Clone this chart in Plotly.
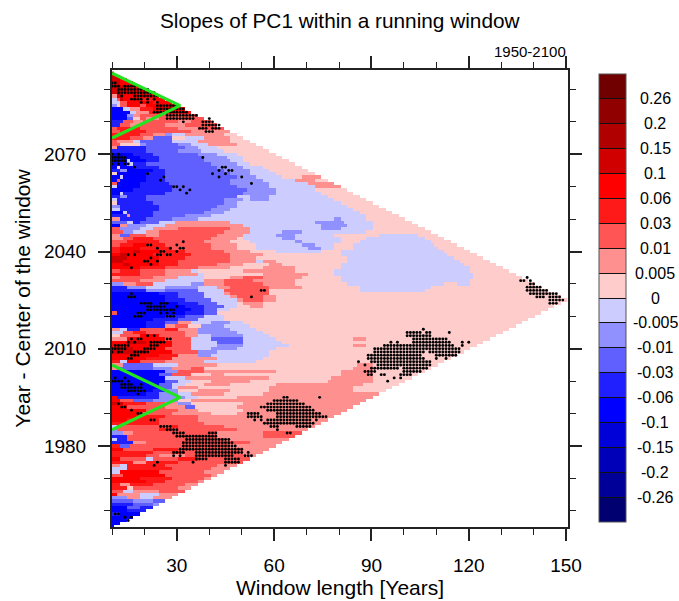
import numpy as np
import plotly.graph_objects as go

COLORS = ["#700000","#900000","#B00000","#D00000","#FF0000","#FF1A1A","#FF5555","#FF9090","#FFCCCC",
          "#CCCCFF","#9090FF","#6060FF","#2020FF","#0000FF","#0000D8","#0000B8","#000098","#000070"]
LEVEL_KEYS = "ABCDEFGHIJKLMNOPQR"
CBAR_LABELS = ["0.26","0.2","0.15","0.1","0.06","0.03","0.01","0.005","0",
               "-0.005","-0.01","-0.03","-0.06","-0.1","-0.15","-0.2","-0.26"]
X_MAJOR = [30,60,90,120,150]
X_MINOR = list(range(10,151,10))
Y_MAJOR = [1980,2010,2040,2070]
Y_MINOR = list(range(1960,2091,10))
GREEN_1_X = [10,31,10]; GREEN_1_Y = [2095,2085,2075]
GREEN_2_X = [10,31,10]; GREEN_2_Y = [2005,1995,1985]

# Every token: colour class + last window length of the run; last token runs to the triangle edge.
ROWS = {
2095:"D",2094:"D",2093:"D12 E",2092:"D12 E",2091:"D14 E",2090:"D14 E",2089:"D12 E",2088:"H11 D13 E",
2087:"J11 G12 D13 E18 F22 E",2086:"J12 G14 E22 F24 E",
2085:"K11 I12 G14 E18 G20 E",2084:"N13 J15 H18 F22 E",2083:"N15 J17 H21 F",2082:"N14 K16 H18 G",
2081:"N14 L16 I18 G20 H24 G",2080:"M13 G16 H19 G30 H34 G",
2079:"M12 G15 H18 G26 H32 G",2078:"G11 F18 G30 H36 G",2077:"G12 F20 G34 H",
2076:"F18 G22 H26 K28 J32 H44 I",2075:"F15 G19 H22 L28 I32 J38 H46 I",
2074:"G11 H16 J18 L28 J36 H46 I",2073:"G12 I18 K20 L30 K34 J39 H48 I",
2072:"H11 M20 L32 K36 J42 I",2071:"M20 L30 K37 J44 I",2070:"O13 N16 M22 L36 K42 J48 I",
2069:"O14 N18 M24 L38 K45 J50 I",2068:"O14 J15 N20 M24 L38 K46 J50 I",
2067:"N14 J16 M20 L40 K48 J52 I",2066:"N11 I12 N16 M24 L42 K50 J56 I",
2065:"M12 K14 N22 M26 L44 K52 J58 I",2064:"I11 N20 M26 L46 K52 J60 I",
2063:"N12 J13 N20 M26 L48 K54 J62 I68 H",2062:"N11 G12 N20 M26 L46 K56 J66 H72 I",
2061:"G11 N18 M27 L46 K58 J70 H",2060:"J11 N18 M28 L48 K58 J72 H",
2059:"N16 M28 L51 K60 J72 I",2058:"N12 J13 M26 L50 K60 J74 I",
2057:"M12 K14 M20 L48 J52 K58 J76 I",2056:"J11 M20 L44 K50 J52 K58 J78 I",
2055:"I11 M22 L44 K48 J80 I",2054:"K12 M24 L42 K48 J82 I",
2053:"J12 M24 L40 K46 J84 I",2052:"N13 J14 M22 L38 K44 J86 I",
2051:"M14 H15 M22 L32 K40 J88 I",2050:"H12 M20 L28 K36 J78 K80 J88 I",
2049:"L14 J16 M18 L24 J29 H46 J72 K81 J90 I",2048:"N12 H14 K20 J26 H50 J74 K82 J90 I",
2047:"G12 K18 J22 H30 G46 H52 J74 K80 J90 I",2046:"G13 K16 J20 H24 G44 H52 J62 K68 J88 I",
2045:"H12 L15 G20 H24 G42 H50 J60 K66 J78 I92 J104 I",
2044:"H13 G16 F22 G40 H48 I50 J62 K66 J80 I88 J106 I",
2043:"G14 F24 G38 H46 I52 J66 K68 J80 I86 J108 I",
2042:"G12 F16 E20 F26 G40 H48 I54 J68 K72 J78 I84 J109 I",
2041:"F12 E18 F28 G40 H48 I54 J70 K74 J78 I84 J110 I",
2040:"F12 E16 D18 E24 F32 G44 H52 I60 J74 I80 J112 I",
2039:"E12 D14 E22 F34 G46 H56 I80 J113 I",2038:"D14 E24 F32 G46 H54 I82 J115 I",
2037:"D13 E24 F30 G46 H54 J56 H60 I82 J117 I",2036:"E13 D15 E24 F30 G42 H50 I58 H62 I80 J118 I",
2035:"E18 F26 G36 H46 I56 H66 I80 J120 I",2034:"G12 F18 G26 H34 J36 I50 H66 I78 J120 I",
2033:"F18 G26 H36 J38 I56 H70 I78 J121 I",2032:"H12 G22 H30 J38 I46 H50 G56 H68 I80 J121 I",
2031:"G18 H26 J38 H44 G53 H66 I80 J120 I",2030:"K13 H17 G22 J34 K38 H44 G56 H66 I82 J112 I116 J120 I",
2029:"M14 K20 J26 K36 J42 H46 G58 H68 I86 J108 I",2028:"M20 K26 L36 J44 G58 I86 J106 I",
2027:"N24 M30 L38 J44 H46 G58 I",2026:"N26 M30 L38 J46 H48 G56 H60 I",
2025:"N26 M32 L40 J48 H50 G56 H60 I",2024:"N30 M36 L42 J48 I50 H56 I",
2023:"N32 M38 L44 J48 I52 H56 I",2022:"N34 M38 L42 J46 I",2021:"G11 N32 M38 L42 I",
2020:"N26 M32 L38 J44 I",2019:"N22 M30 L36 J44 I",2018:"N20 M26 L30 H34 J40 K46 J50 I",
2017:"N20 M26 H29 G33 I37 K44 J52 I",2016:"H12 J14 M18 G26 F30 H36 K46 J54 I",
2015:"J13 G16 F20 G32 H36 K48 J56 I",2014:"I12 G18 E24 G32 H36 J40 K50 J58 I",
2013:"H14 E26 G34 J40 L50 J60 I84 H88 I",2012:"E14 D20 E28 G34 J42 L50 J62 I",
2011:"E28 G34 J42 K50 J64 I84 H88 I",2010:"D16 E26 G34 J40 K48 J60 I",
2009:"D20 E28 G36 K42 J58 I",2008:"E24 F30 H36 K40 J58 I",
2007:"E20 F28 H42 J56 I",2006:"F12 J14 E18 G26 H38 J54 I",
2005:"H13 L22 J30 H42 I85 H90 I",2004:"H11 L22 K28 H34 G38 I84 H90 I",
2003:"N26 K30 G38 H60 I80 H90 I",2002:"N24 L28 G34 I40 H44 I80 H90 I",
2001:"N26 J32 H58 I77 H90 I",2000:"N26 L30 J34 I40 H52 I76 H90 I",
1999:"N24 L28 J32 I38 H46 I60 H87 I",1998:"N24 L28 J30 H36 I58 H84 I",
1997:"N22 M26 K30 I36 H46 I58 H84 I",1996:"N20 M24 K30 J34 H44 I56 H",
1995:"E11 M24 K32 J36 I48 H",1994:"E12 G16 L22 K30 I34 H",
1993:"D13 F20 G26 H30 K34 I50 H",1992:"E14 G26 H32 L35 I48 H",1991:"E20 G30 H36 I50 H",
1990:"E18 G28 H40 I48 H",1989:"E18 F26 G36 H",1988:"E14 F24 G36 H",
1987:"F24 G38 H",1986:"J11 F12 G28 F30 G44 H",1985:"K11 G24 F28 G48 H",
1984:"K13 H16 G42 H56 G",1983:"M14 G42 H56 G",1982:"J11 M14 G44 H",1981:"M16 H20 G52 H",
1980:"F12 L15 G46 H",1979:"E13 G22 F30 G50 H",1978:"F22 G28 F32 G48 H",1977:"F20 G24 H32 G50 H",
1976:"E12 G20 J22 G30 F36 G",1975:"F16 H20 F30 G",1974:"H12 J14 F26 G42 H",1973:"J14 F28 G40 H",
1972:"J12 E24 G38 H",1971:"G13 E26 G40 H",1970:"E18 F28 G38 H",1969:"E20 F26 G36 H",
1968:"F12 H15 F22 G32 H",1967:"F14 I16 G30 H",1966:"G13 J16 H24 G",1965:"E11 H18 J24 H",
1964:"K14 H18 J22 H",1963:"L16 K22 L",1962:"M16 L22 K",1961:"N14 L18 M",1960:"N14 M",1959:"M12 N",
1958:"N",1957:"N",1956:"N",1955:"N",
}

# Significance stippling: year -> list of (first, last) window lengths.
STIPPLE_LEFT = {
2092:[(10,11)],2091:[(10,12),(14,17)],2090:[(12,21)],2089:[(12,23)],2088:[(13,13),(17,24)],
2087:[(16,19),(21,21),(23,23)],2086:[(19,19),(21,21),(24,24)],2085:[(24,30)],2084:[(24,32)],
2083:[(23,33)],2082:[(27,36)],2081:[(27,35),(40,40)],2080:[(32,32),(38,41)],2079:[(38,43)],
2078:[(37,39),(41,43)],2077:[(39,41)],2070:[(10,10),(12,12)],2069:[(10,14),(38,38)],
2068:[(10,14)],2067:[(10,10),(12,12),(14,15)],2066:[(17,17),(44,45)],2065:[(43,43),(46,47)],
2064:[(21,21),(41,41),(45,45)],2063:[(26,26),(43,43),(50,50)],2062:[(25,25)],2061:[(53,53)],
2060:[(29,30),(32,32)],2059:[(31,31),(34,34)],2058:[(33,33)],
2043:[(32,32)],2042:[(21,22),(30,30)],2041:[(24,24),(28,28),(31,32)],2040:[(25,26),(30,30)],
2039:[(15,15),(17,17),(24,25),(27,28)],2038:[(22,22)],2037:[(20,21),(24,24)],2036:[(22,22)],2035:[(16,16)],
2028:[(56,57)],2027:[(16,16)],2026:[(15,17),(53,53)],2024:[(19,22),(25,27)],2023:[(21,26),(30,30)],
2022:[(21,29)],2021:[(18,20),(25,25),(27,27),(29,29)],2020:[(17,19),(27,29)],
2014:[(21,21),(23,23)],2013:[(16,16),(18,19),(27,28)],2012:[(15,15),(17,17),(22,26)],
2011:[(11,15),(22,24)],2010:[(10,14),(20,23)],2009:[(10,10),(12,13),(17,21)],
2008:[(16,18)],2007:[(15,16)],2001:[(11,11),(14,14)],2000:[(10,13),(15,15)],
1999:[(13,16),(19,19)],1998:[(13,19)],1997:[(15,20)],1996:[(18,18)],
1993:[(12,12)],1992:[(13,14)],1991:[(16,16)],1990:[(18,19)],1988:[(22,23)],
1986:[(25,28)],1985:[(27,30)],1984:[(29,32),(40,42)],1983:[(30,42)],1982:[(33,46)],
1981:[(32,47)],1980:[(32,48)],1979:[(31,50)],1978:[(29,32),(36,50),(52,52)],
1977:[(29,29),(31,31),(36,47),(51,53)],1976:[(36,39),(45,49)],1975:[(24,24),(35,35),(45,49)],
1974:[(23,23),(45,45)],1959:[(11,12)],1958:[(14,14),(16,16)],1957:[(15,15)],
}
STIPPLE_MID = {
1995:[(63,64),(74,74)],1994:[(60,67)],1993:[(58,69)],1992:[(56,71)],
1991:[(58,72)],1990:[(52,55),(61,74)],1989:[(52,56),(61,76)],
1988:[(54,54),(56,56),(58,71),(73,73)],1987:[(57,72)],1986:[(59,61),(67,71)],
1985:[(61,61)],1984:[(64,65)],
}
STIPPLE_RIGHT = {
2016:[(106,106)],2015:[(101,105),(107,108),(114,114)],
2014:[(101,108)],2013:[(103,113)],2012:[(96,96),(98,98),(103,114),(118,118),(120,120)],
2011:[(94,115),(118,118)],2010:[(91,117)],2009:[(91,106),(108,117)],
2008:[(89,105),(110,116)],2007:[(89,106),(110,110),(113,113)],
2006:[(86,86),(90,108)],2005:[(88,88),(92,108)],2004:[(90,98),(100,107)],
2003:[(88,91),(100,105)],2002:[(89,90),(93,94),(99,102)],2001:[(97,97),(99,99)],2000:[(95,95)],
2032:[(138,138)],2031:[(136,137),(139,139)],2030:[(139,140)],2029:[(138,142)],2028:[(138,144)],
2027:[(139,147)],2026:[(141,143),(145,148)],2025:[(145,149)],2024:[(145,147)],
}

lengths = np.arange(10,151)
years = np.arange(1955,2096)
z = np.full((len(years),len(lengths)),np.nan)
for yy,txt in ROWS.items():
    start=10
    lim=2*min(yy-1950,2100-yy)
    for tok in txt.split():
        level=LEVEL_KEYS.index(tok[0])
        end=int(tok[1:]) if len(tok)>1 else 150
        for L in range(start,min(end,lim)+1):
            z[yy-1955,L-10]=level+0.5
        start=end+1

dot_x=[];dot_y=[]
for table in (STIPPLE_LEFT,STIPPLE_MID,STIPPLE_RIGHT):
    for yy,spans in table.items():
        for a,b in spans:
            for L in range(a,b+1):
                dot_x.append(L);dot_y.append(yy)

n=len(COLORS)
# z index 0 is the darkest red: colour bar shows it at the top, so the scale runs reversed
scale=[]
for i,c in enumerate(COLORS[::-1]):
    scale.append([i/n,c]);scale.append([(i+1)/n,c])
zz=n-z

L_PX,R_PX,T_PX,B_PX=112,568,70,527
W,H=679,601
PW,PH=R_PX-L_PX,B_PX-T_PX
px=lambda v:(v-L_PX)/PW
py=lambda v:(B_PX-v)/PH
FONT="Liberation Sans"

fig=go.Figure()
fig.add_trace(go.Heatmap(x=lengths,y=years,z=zz,zmin=0,zmax=n,colorscale=scale,hoverinfo="skip",
    colorbar=dict(x=px(599),xanchor="left",y=py(522),yanchor="bottom",lenmode="pixels",len=448,
        thicknessmode="pixels",thickness=27,xpad=0,ypad=0,outlinecolor="#555555",outlinewidth=1,
        tickmode="array",tickvals=list(range(1,n)),ticks="inside",ticklen=27,tickcolor="#111111",tickwidth=1,
        showticklabels=False)))
fig.add_trace(go.Scatter(x=dot_x,y=dot_y,mode="markers",marker=dict(color="black",size=2.9,line=dict(width=0)),
    hoverinfo="skip",showlegend=False))
for gx,gy in ((GREEN_1_X,GREEN_1_Y),(GREEN_2_X,GREEN_2_Y)):
    fig.add_trace(go.Scatter(x=gx,y=gy,mode="lines",line=dict(color="#22E522",width=3.2),
        hoverinfo="skip",showlegend=False))

ann=[dict(text="Slopes of PC1 within a running window",x=0.5,xref="x domain",y=py(20),yref="paper",showarrow=False,
          font=dict(family=FONT,size=20.8,color="black"),xanchor="center",yanchor="middle"),
     dict(text="1950-2100",x=1,xref="x domain",y=py(52),yref="paper",showarrow=False,
          font=dict(family=FONT,size=15,color="black"),xanchor="right",yanchor="middle")]
for i,lab in enumerate(CBAR_LABELS):
    ann.append(dict(text=lab,x=px(655),xref="paper",y=py(74+448*(i+1)/18),yref="paper",showarrow=False,
        font=dict(family=FONT,size=16,color="black"),xanchor="center",yanchor="middle"))

fig.update_layout(width=W,height=H,autosize=False,margin=dict(l=L_PX,r=W-R_PX,t=T_PX,b=H-B_PX,pad=0),
    paper_bgcolor="white",plot_bgcolor="white",showlegend=False,annotations=ann,font=dict(family=FONT,color="black"),
    xaxis=dict(range=[10,150.6],tickmode="array",tickvals=X_MAJOR,ticks="outside",ticklen=12,tickwidth=1.5,tickcolor="#222",
        minor=dict(tickmode="array",tickvals=X_MINOR,ticks="outside",ticklen=6,tickwidth=1,tickcolor="#222",showgrid=False),
        showline=True,linewidth=2,linecolor="#222",mirror="ticks",showgrid=False,zeroline=False,
        tickfont=dict(size=19),ticklabelstandoff=8,title=dict(text="Window length [Years]",font=dict(size=21),standoff=4),automargin=False),
    yaxis=dict(range=[1955,2096],tickmode="array",tickvals=Y_MAJOR,ticks="outside",ticklen=12,tickwidth=1.5,tickcolor="#222",
        minor=dict(tickmode="array",tickvals=Y_MINOR,ticks="outside",ticklen=6,tickwidth=1,tickcolor="#222",showgrid=False),
        showline=True,linewidth=2,linecolor="#222",mirror="ticks",showgrid=False,zeroline=False,
        tickfont=dict(size=19),ticklabelstandoff=8,title=dict(text="Year - Center of the window",font=dict(size=21),standoff=8),automargin=False))
fig.write_html("out.html",post_script="document.body.style.margin='0';",config={"displayModeBar":False})
